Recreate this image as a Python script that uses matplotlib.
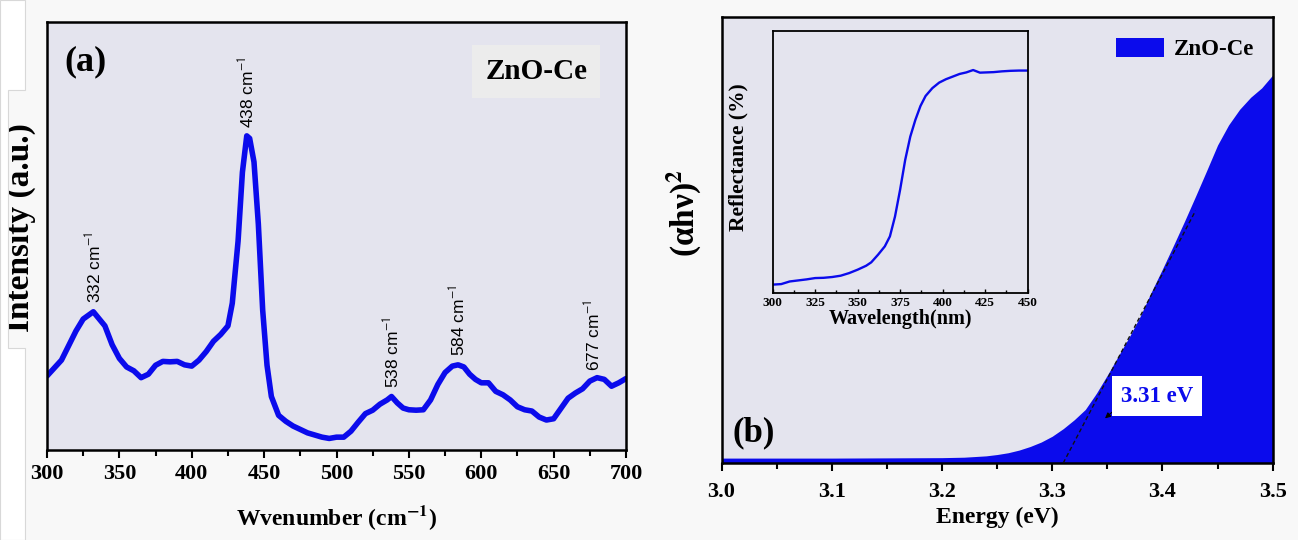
import matplotlib
matplotlib.use('Agg')
import matplotlib.pyplot as plt
import numpy as np
from matplotlib.patches import Polygon
from matplotlib.ticker import MultipleLocator, FormatStrFormatter

# ---------------- data ----------------
# (a) Raman spectrum (normalised intensity)
raman_x = [300, 310, 320, 325, 332, 340, 345, 350, 355, 360, 365, 370, 375, 380,
           385, 390, 395, 400, 405, 410, 415, 420, 425, 428, 432, 435, 438, 440,
           443, 446, 449, 452, 455, 460, 465, 470, 475, 480, 485, 490, 495, 500,
           505, 510, 515, 520, 525, 530, 535, 538, 542, 546, 550, 555, 560, 565,
           570, 575, 580, 584, 588, 592, 596, 600, 605, 610, 615, 620, 625, 630,
           635, 640, 645, 650, 655, 660, 665, 670, 675, 680, 685, 690, 695, 700]
raman_y = [0.173, 0.210, 0.278, 0.306, 0.323, 0.290, 0.246, 0.214, 0.194, 0.185,
           0.169, 0.177, 0.198, 0.207, 0.206, 0.207, 0.199, 0.196, 0.210, 0.230,
           0.254, 0.270, 0.290, 0.343, 0.488, 0.649, 0.734, 0.728, 0.673, 0.528,
           0.327, 0.198, 0.125, 0.081, 0.067, 0.056, 0.048, 0.040, 0.035, 0.030,
           0.027, 0.030, 0.030, 0.044, 0.065, 0.085, 0.093, 0.107, 0.117, 0.125,
           0.110, 0.098, 0.094, 0.093, 0.094, 0.117, 0.153, 0.181, 0.196, 0.199,
           0.194, 0.177, 0.165, 0.157, 0.157, 0.137, 0.129, 0.117, 0.101, 0.094,
           0.091, 0.077, 0.070, 0.073, 0.097, 0.121, 0.133, 0.143, 0.161, 0.169,
           0.165, 0.149, 0.157, 0.167]
peak_pos = [332, 438, 538, 584, 677]
peak_labels = ['332', '438', '538', '584', '677']

# (b) Tauc plot
energy = [3.00, 3.05, 3.10, 3.15, 3.20, 3.22, 3.24, 3.25, 3.26, 3.27, 3.28, 3.29,
          3.30, 3.31, 3.32, 3.33, 3.34, 3.35, 3.36, 3.37, 3.38, 3.39, 3.40, 3.41,
          3.42, 3.43, 3.44, 3.45, 3.46, 3.47, 3.48, 3.49, 3.50]
ahv2 = [0.011, 0.011, 0.011, 0.0115, 0.012, 0.013, 0.016, 0.019, 0.023, 0.029,
        0.037, 0.047, 0.060, 0.077, 0.097, 0.120, 0.156, 0.197, 0.240, 0.283,
        0.330, 0.384, 0.435, 0.488, 0.542, 0.598, 0.655, 0.713, 0.758, 0.793,
        0.820, 0.841, 0.870]
band_gap = 3.31
tangent_end = 3.43

# inset: reflectance
wavelength = [300, 305, 310, 315, 320, 325, 330, 335, 340, 345, 350, 355, 358, 362,
              366, 369, 372, 375, 378, 381, 384, 387, 390, 394, 398, 402, 406, 410,
              414, 418, 422, 426, 430, 435, 440, 445, 450]
reflectance = [0.032, 0.034, 0.044, 0.048, 0.052, 0.057, 0.058, 0.061, 0.066, 0.076,
               0.089, 0.104, 0.117, 0.146, 0.178, 0.216, 0.292, 0.394, 0.508, 0.597,
               0.661, 0.714, 0.752, 0.782, 0.803, 0.816, 0.826, 0.836, 0.842, 0.851,
               0.841, 0.842, 0.843, 0.846, 0.848, 0.849, 0.849]

# ---------------- style ----------------
SERIF = 'Liberation Serif'
SANS = 'Liberation Sans'
plt.rcParams['mathtext.fontset'] = 'stix'
BLUE = '#0b0bec'
PANEL_BG = '#e4e4ee'
FIG_BG = '#f8f8f8'

fig = plt.figure(figsize=(12.98, 5.40), dpi=100, facecolor=FIG_BG)

W, H = 1298.0, 540.0
def fr(x0, y0, x1, y1):
    return [x0 / W, 1 - y1 / H, (x1 - x0) / W, (y1 - y0) / H]

# white strip at far left
poly = [(0, 0), (25, 0), (25, 90), (8, 90), (8, 348), (25, 348), (25, 540), (0, 540)]
fig.patches.append(Polygon([(x / W, 1 - y / H) for x, y in poly], closed=True,
                           transform=fig.transFigure, facecolor='white',
                           edgecolor='#d8d8d8', lw=0.8, zorder=0))

def style_axes(ax, lw=1.8):
    ax.set_facecolor(PANEL_BG)
    for s in ax.spines.values():
        s.set_linewidth(lw)
        s.set_color('black')

# ---------------- (a) ----------------
axa = fig.add_axes(fr(47, 22, 626, 450))
style_axes(axa)
axa.plot(raman_x, raman_y, color=BLUE, lw=4.0, solid_joinstyle='round',
         solid_capstyle='round')
axa.set_xlim(300, 700)
axa.set_ylim(0, 1)
axa.set_yticks([])
axa.xaxis.set_major_locator(MultipleLocator(50))
axa.xaxis.set_minor_locator(MultipleLocator(25))
axa.tick_params(axis='x', which='major', direction='out', length=6, width=1.5, pad=4)
axa.tick_params(axis='x', which='minor', direction='out', length=4, width=1.5)
for lab in axa.get_xticklabels():
    lab.set_fontfamily(SERIF); lab.set_fontweight('bold'); lab.set_fontsize(16)
axa.set_xlabel(r'Wvenumber (cm$^{\mathbf{-1}}$)', fontfamily=SERIF, fontweight='bold',
               fontsize=17, labelpad=14)
axa.set_ylabel('Intensity (a.u.)', fontfamily=SERIF, fontweight='bold', fontsize=24)
axa.yaxis.set_label_coords(-0.019, 0.52)
axa.text(0.03, 0.945, '(a)', transform=axa.transAxes, fontfamily=SERIF,
         fontweight='bold', fontsize=26, ha='left', va='top')
axa.text(0.845, 0.885, 'ZnO-Ce', transform=axa.transAxes, fontfamily=SERIF,
         fontweight='bold', fontsize=21, ha='center', va='center',
         bbox=dict(boxstyle='square,pad=0.45', facecolor='#ececec', edgecolor='none'))
for p, lab in zip(peak_pos, peak_labels):
    yv = float(np.interp(p, raman_x, raman_y))
    axa.annotate(lab + r' cm$^{\mathsf{-1}}$', xy=(p, yv), xytext=(0, 6),
                 textcoords='offset points', rotation=90, ha='center', va='bottom',
                 fontfamily=SANS, fontsize=12.5)

# ---------------- (b) ----------------
axb = fig.add_axes(fr(721.5, 17, 1272.7, 463))
style_axes(axb)
axb.fill_between(energy, 0, ahv2, color=BLUE, lw=0, label='ZnO-Ce')
slope = float(np.interp(3.38, energy, ahv2)) / (3.38 - band_gap)
axb.plot([band_gap, tangent_end], [0, slope * (tangent_end - band_gap)],
         color='#111111', ls=(0, (3, 2)), lw=1.0, zorder=3)
axb.set_xlim(3.0, 3.5)
axb.set_ylim(0, 1)
axb.set_yticks([])
axb.xaxis.set_major_locator(MultipleLocator(0.1))
axb.xaxis.set_minor_locator(MultipleLocator(0.05))
axb.xaxis.set_major_formatter(FormatStrFormatter('%.1f'))
axb.tick_params(axis='x', which='major', direction='out', length=6, width=1.5, pad=8)
axb.tick_params(axis='x', which='minor', direction='out', length=4, width=1.5)
for lab in axb.get_xticklabels():
    lab.set_fontfamily(SERIF); lab.set_fontweight('bold'); lab.set_fontsize(16)
axb.set_xlabel('Energy (eV)', fontfamily=SERIF, fontweight='bold', fontsize=17,
               labelpad=3)
axb.set_ylabel('(αhν)$^{\\mathbf{2}}$', fontfamily=SERIF, fontweight='bold', fontsize=24)
axb.yaxis.set_label_coords(-0.032, 0.56)
axb.text(0.02, 0.03, '(b)', transform=axb.transAxes, fontfamily=SERIF,
         fontweight='bold', fontsize=25, ha='left', va='bottom')
leg = axb.legend(loc='upper right', prop=dict(family=SERIF, weight='bold', size=16.5),
                 frameon=False, handlelength=2.1, handleheight=0.9,
                 bbox_to_anchor=(0.995, 0.99), borderaxespad=0.3, handletextpad=0.4)
axb.annotate('', xy=(3.346, 0.096), xytext=(3.358, 0.122),
             arrowprops=dict(arrowstyle='-|>', color='black', lw=0.8,
                             mutation_scale=8))
axb.text(3.395, 0.150, '3.31 eV', fontfamily=SERIF, fontweight='bold', fontsize=16.5,
         color=BLUE, ha='center', va='center',
         bbox=dict(boxstyle='square,pad=0.4', facecolor='white', edgecolor='none'))

# ---------------- inset ----------------
axi = fig.add_axes(fr(772.7, 31, 1027.5, 293))
style_axes(axi, lw=1.3)
axi.plot(wavelength, reflectance, color=BLUE, lw=1.7)
axi.set_xlim(300, 450)
axi.set_ylim(0, 1)
axi.set_yticks([])
axi.xaxis.set_major_locator(MultipleLocator(25))
axi.xaxis.set_minor_locator(MultipleLocator(12.5))
axi.tick_params(axis='x', which='major', direction='in', length=3, width=1.0, pad=3)
axi.tick_params(axis='x', which='minor', direction='in', length=2, width=1.0)
for lab in axi.get_xticklabels():
    lab.set_fontfamily(SERIF); lab.set_fontweight('bold'); lab.set_fontsize(9.5)
axi.set_xlabel('Wavelength(nm)', fontfamily=SERIF, fontweight='bold', fontsize=14.5,
               labelpad=0)
axi.set_ylabel('Reflectance (%)', fontfamily=SERIF, fontweight='bold', fontsize=15.5)
axi.yaxis.set_label_coords(-0.095, 0.52)

fig.savefig('out.png', dpi=100, facecolor=FIG_BG)
